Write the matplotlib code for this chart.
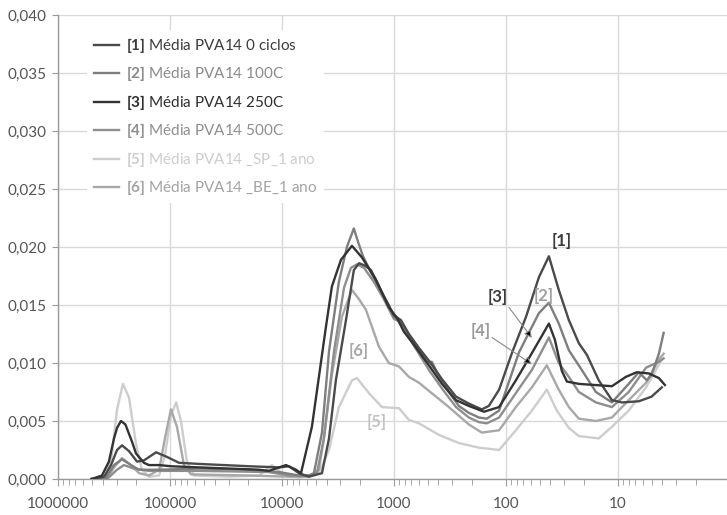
import matplotlib
matplotlib.use("Agg")
import matplotlib.pyplot as plt
from matplotlib.ticker import FixedLocator, LogLocator, FuncFormatter, NullFormatter

plt.rcParams['font.family'] = ['Lato', 'DejaVu Sans']
plt.rcParams['mathtext.fontset'] = 'custom'
plt.rcParams['mathtext.rm'] = 'Lato'
plt.rcParams['mathtext.bf'] = 'Lato:bold'

# ---------------- data ----------------
names = ["Média PVA14 0 ciclos", "Média PVA14 100C", "Média PVA14 250C",
         "Média PVA14 500C", "Média PVA14 _SP_1 ano", "Média PVA14 _BE_1 ano"]
tags = ["[1]", "[2]", "[3]", "[4]", "[5]", "[6]"]

d1 = [500000, 388000, 336000, 297000, 268000, 232000, 197000, 171000, 133000, 106000,
      83200, 55100, 19700, 10600, 8660, 7050, 5740, 4390, 3800, 3300, 2680, 2280, 2050,
      1820, 1600, 1180, 1000, 866, 735, 598, 487, 372, 279, 214, 164, 142, 115, 88, 66,
      50.7, 41.3, 33.7, 27.4, 22.3, 18.9, 14.8, 11.3, 9.2, 6.5, 5.0, 4.05]
v1 = [0, 0.0002, 0.0012, 0.0025, 0.0029, 0.0024, 0.0015, 0.0016, 0.0023, 0.0019,
      0.0014, 0.0013, 0.0011, 0.0010, 0.0011, 0.0005, 0.0002, 0.0005, 0.0035, 0.0085,
      0.0137, 0.0180, 0.0186, 0.0184, 0.0180, 0.0154, 0.0141, 0.0137, 0.0125, 0.0113,
      0.0102, 0.0086, 0.0071, 0.0065, 0.0060, 0.0063, 0.0077, 0.0109, 0.0140, 0.0174,
      0.0192, 0.0163, 0.0137, 0.0117, 0.0107, 0.0085, 0.0068, 0.0066, 0.0067, 0.0071, 0.0079]

d2 = [500000, 380000, 316000, 268000, 223000, 189000, 125000, 55100, 19700, 10600,
      7050, 5740, 5180, 4390, 3800, 3100, 2630, 2280, 2100, 1890, 1600, 1360, 1110,
      1000, 900, 735, 598, 507, 458, 413, 323, 263, 214, 174, 148, 115, 76.5, 62.4,
      50.7, 41.3, 33.7, 27.4, 21, 15.7, 11.3, 8.0, 6.5, 5.5, 5.0, 4.3, 3.9]
v2 = [0, 0, 0.0012, 0.0017, 0.0012, 0.0008, 0.0008, 0.0009, 0.0008, 0.0006,
      0.0003, 0.0003, 0.0005, 0.0040, 0.0110, 0.0170, 0.0200, 0.0216, 0.0205, 0.0192,
      0.0178, 0.0165, 0.0150, 0.0140, 0.0136, 0.0124, 0.0112, 0.0101, 0.0101, 0.0092,
      0.0075, 0.0063, 0.0057, 0.0053, 0.0052, 0.0059, 0.0109, 0.0126, 0.0143, 0.0152,
      0.0134, 0.0111, 0.0094, 0.0075, 0.0066, 0.0082, 0.0092, 0.0085, 0.0090, 0.0108, 0.0126]

d3 = [500000, 405000, 351000, 316000, 297000, 274000, 250000, 218000, 201000, 171000,
      154000, 125000, 98000, 55100, 29700, 16000, 13100, 9200, 7500, 6760, 5400, 4050,
      3580, 2970, 2370, 1930, 1450, 1110, 940, 815, 690, 487, 372, 279, 214, 157, 115,
      81.5, 62.4, 50.7, 41.3, 36.5, 31.6, 28.5, 22.3, 11.3, 8.5, 6.8, 5.3, 4.3, 3.8]
v3 = [0, 0.0003, 0.0015, 0.0035, 0.0044, 0.0050, 0.0047, 0.0032, 0.0022, 0.0014,
      0.0012, 0.0012, 0.0011, 0.0010, 0.0009, 0.0008, 0.0007, 0.0012, 0.0008, 0.0005,
      0.0045, 0.0131, 0.0166, 0.0189, 0.0201, 0.0191, 0.0172, 0.0148, 0.0139, 0.0127,
      0.0118, 0.0098, 0.0082, 0.0068, 0.0063, 0.0058, 0.0062, 0.0085, 0.0104, 0.0119,
      0.0134, 0.0120, 0.0093, 0.0084, 0.0082, 0.0080, 0.0088, 0.0092, 0.0091, 0.0087, 0.0081]

d4 = [500000, 365000, 297000, 258000, 210000, 154000, 55100, 13100, 8660, 5740, 4870,
      4220, 3430, 2790, 2420, 2140, 1850, 1510, 1230, 1000, 900, 735, 598, 487, 372,
      279, 214, 174, 148, 115, 81.5, 58.6, 41.3, 33.7, 27.4, 22.3, 15.7, 11.3, 8.0,
      5.6, 4.3, 3.9]
v4 = [0, 0, 0.0008, 0.0012, 0.0009, 0.0007, 0.0007, 0.0006, 0.0003, 0.0003, 0.0005,
      0.0035, 0.0110, 0.0165, 0.0182, 0.0185, 0.0182, 0.0170, 0.0155, 0.0138, 0.0136,
      0.0122, 0.0108, 0.0094, 0.0078, 0.0062, 0.0053, 0.0049, 0.0048, 0.0053, 0.0074,
      0.0094, 0.0122, 0.0100, 0.0088, 0.0075, 0.0066, 0.0062, 0.0075, 0.0096, 0.0101, 0.0104]

d5 = [500000, 388000, 336000, 297000, 263000, 232000, 201000, 178000, 154000, 125000,
      111000, 98000, 88000, 79800, 70500, 61000, 29700, 16000, 12300, 9600, 7050, 4680,
      3800, 3100, 2370, 2140, 1670, 1280, 900, 735, 598, 396, 263, 174, 115, 81.5, 58.6,
      43.1, 35.1, 27.4, 22.3, 14.8, 11.3, 8.0, 5.6, 4.05]
v5 = [0, 0, 0.0015, 0.0060, 0.0082, 0.0070, 0.0030, 0.0008, 0.0002, 0.0003,
      0.0020, 0.0055, 0.0066, 0.0050, 0.0015, 0.0003, 0.0002, 0.0003, 0.0012, 0.0004,
      0.0001, 0.0005, 0.0025, 0.0062, 0.0085, 0.0087, 0.0074, 0.0062, 0.0061, 0.0051,
      0.0048, 0.0038, 0.0031, 0.0027, 0.0025, 0.0042, 0.0059, 0.0077, 0.0059, 0.0044,
      0.0037, 0.0035, 0.0045, 0.0059, 0.0079, 0.0103]

d6 = [500000, 365000, 316000, 268000, 223000, 189000, 154000, 125000, 111000, 98000,
      86600, 75000, 65000, 19700, 8660, 5740, 4680, 4220, 3580, 2910, 2370, 2050, 1780,
      1360, 1110, 900, 735, 598, 323, 214, 164, 115, 81.5, 58.6, 43.1, 33.7, 27.4, 22.3,
      15.7, 11.3, 8.0, 5.6, 4.3, 3.9]
v6 = [0, 0, 0.0010, 0.0018, 0.0012, 0.0005, 0.0003, 0.0008, 0.0035, 0.0060,
      0.0045, 0.0012, 0.0004, 0.0003, 0.0002, 0.0002, 0.0008, 0.0035, 0.0090, 0.0140,
      0.0163, 0.0155, 0.0146, 0.0114, 0.0100, 0.0097, 0.0088, 0.0083, 0.0062, 0.0047,
      0.0040, 0.0042, 0.0062, 0.0079, 0.0098, 0.0077, 0.0062, 0.0052, 0.0050, 0.0053,
      0.0068, 0.0083, 0.0103, 0.0108]

xticks = [1000000, 100000, 10000, 1000, 100, 10]
xticklabels = ["1000000", "100000", "10000", "1000", "100", "10"]
yticks = [0.0, 0.005, 0.010, 0.015, 0.020, 0.025, 0.030, 0.035, 0.040]

colors = ["#4a4a4a", "#7e7e7e", "#333333", "#8e8e8e", "#cdcdcd", "#a8a8a8"]
text_colors = ["#3c3c3c", "#8a8a8a", "#2e2e2e", "#8e8e8e", "#cdcdcd", "#a3a3a3"]

# ---------------- figure ----------------
W, H = 727, 515
fig = plt.figure(figsize=(W / 100, H / 100), dpi=100)
ax = fig.add_axes([58 / W, 36 / H, 669 / W, 464 / H])

series = [(d1, v1), (d2, v2), (d3, v3), (d4, v4), (d5, v5), (d6, v6)]
order = [4, 5, 3, 1, 0, 2]
handles = [None] * 6
for i in order:
    d, v = series[i]
    ln, = ax.plot(d, v, color=colors[i], lw=1.7, solid_joinstyle='round', zorder=3)
    handles[i] = ln

ax.set_xscale('log')
ax.set_xlim(1e6, 1.06)
ax.set_ylim(0, 0.040)

ax.xaxis.set_major_locator(FixedLocator(xticks))
ax.set_xticklabels(xticklabels)
ax.xaxis.set_minor_locator(LogLocator(base=10, subs=range(2, 10), numticks=20))
ax.xaxis.set_minor_formatter(NullFormatter())
ax.set_yticks(yticks)
ax.yaxis.set_major_formatter(FuncFormatter(lambda v, p: f"{v:.3f}".replace('.', ',')))

ax.grid(True, which='major', color='#d9d9d9', lw=1.0, zorder=0)
ax.set_axisbelow(True)
for s in ['top', 'right']:
    ax.spines[s].set_visible(False)
for s in ['left', 'bottom']:
    ax.spines[s].set_color('#9a9a9a')
    ax.spines[s].set_linewidth(1.0)
ax.tick_params(axis='both', which='both', color='#9a9a9a', labelcolor='#555555',
               labelsize=11, direction='out')
ax.tick_params(axis='x', which='major', length=5, pad=8)
ax.tick_params(axis='x', which='minor', length=4)
ax.tick_params(axis='y', which='major', length=4, pad=4)

labels = [r"$\mathbf{%s}$ %s" % (t, n) for t, n in zip(tags, names)]
leg = ax.legend(handles, labels, loc='upper left', bbox_to_anchor=(0.044, 0.968),
                frameon=True, facecolor='white', edgecolor='none', framealpha=1,
                fontsize=11, handlelength=1.65, handletextpad=0.5, labelspacing=0.62,
                borderpad=0.4, borderaxespad=0)
for txt, c in zip(leg.get_texts(), text_colors):
    txt.set_color(c)

# ---------------- annotations ----------------
ann_kw = dict(fontsize=12, fontweight='bold', ha='center', va='center', zorder=5)
ax.text(31.6, 0.0205, "[1]", color=text_colors[0], **ann_kw)
ax.text(45.8, 0.0158, "[2]", color='#a0a0a0', **ann_kw)
ax.text(118, 0.0157, "[3]", color=text_colors[0], **ann_kw)
ax.text(167, 0.0128, "[4]", color='#9a9a9a', **ann_kw)
ax.text(2050, 0.0110, "[6]", color='#a8a8a8', **ann_kw)
ax.text(1420, 0.0049, "[5]", color='#c4c4c4', **ann_kw)

arrow = dict(arrowstyle='-|>', facecolor='black', edgecolor='#8a8a8a', lw=0.8,
             mutation_scale=11, shrinkA=0, shrinkB=0)
ax.annotate("", xy=(58.6, 0.01216), xytext=(94, 0.0148), arrowprops=arrow, zorder=5)
ax.annotate("", xy=(58.6, 0.0099), xytext=(133, 0.0122), arrowprops=arrow, zorder=5)

fig.savefig("out.png", dpi=100)
